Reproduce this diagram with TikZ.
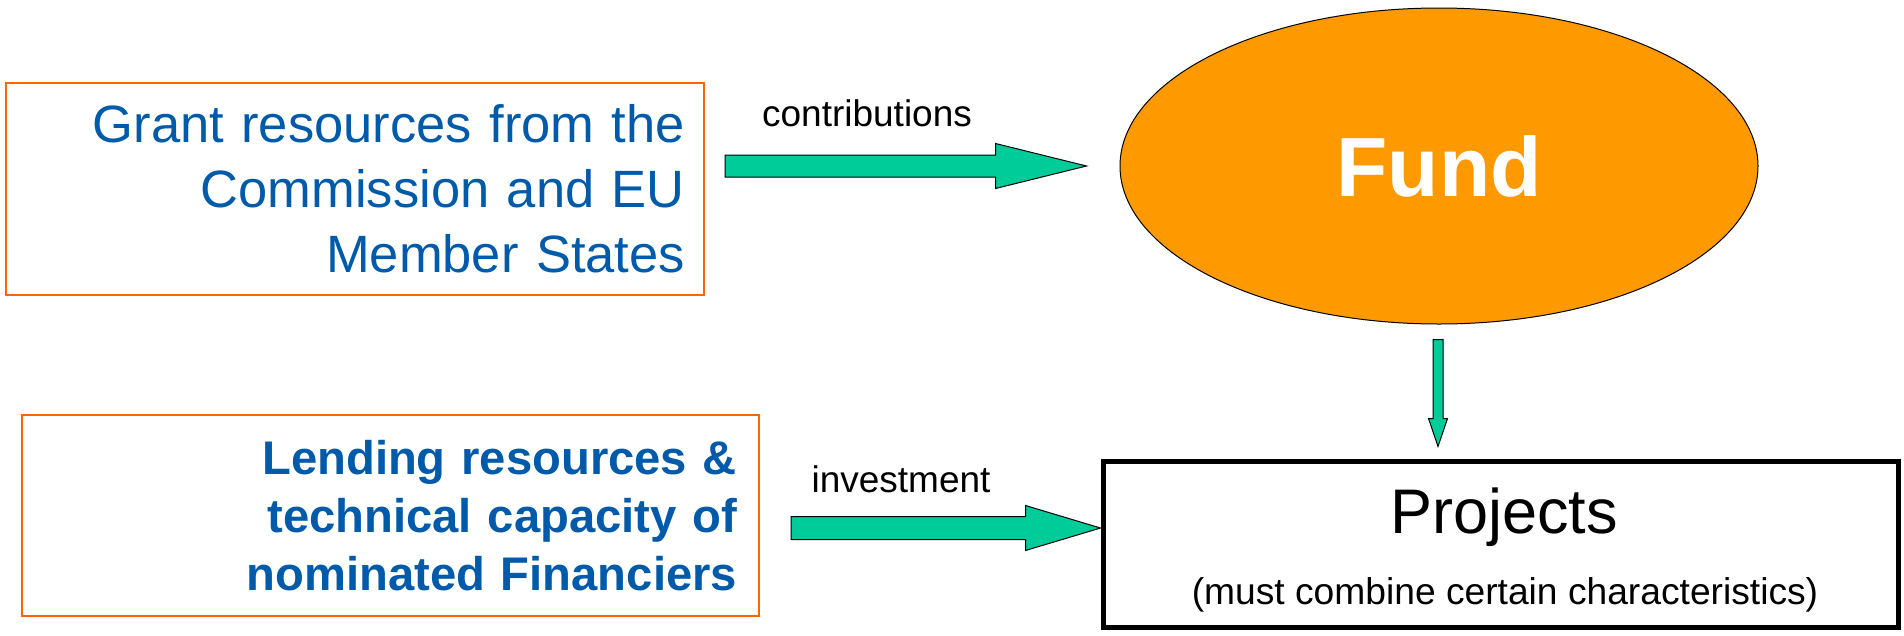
\documentclass[tikz,border=0pt]{standalone}
\usepackage{fontspec}
\setmainfont{Liberation Sans}
\usetikzlibrary{positioning, calc, shapes.geometric}

\definecolor{granttext}{RGB}{0,90,170}
\definecolor{boxorange}{RGB}{255,102,0}
\definecolor{fundorange}{RGB}{255,153,0}
\definecolor{arrowgreen}{RGB}{0,204,153}

\tikzset{
	resbox/.style={draw=boxorange, line width=1.4pt, inner sep=0pt, text=granttext, align=right},
	fatarrow/.style n args={3}{draw=black, line width=1pt, fill=arrowgreen, to path={
		($(\tikztostart)!#1!90:(\tikztotarget)$)
		-- ($($(\tikztotarget)!#3!(\tikztostart)$)!#1!90:(\tikztotarget)$)
		-- ($($(\tikztotarget)!#3!(\tikztostart)$)!#2!90:(\tikztotarget)$)
		-- (\tikztotarget)
		-- ($($(\tikztotarget)!#3!(\tikztostart)$)!#2!-90:(\tikztotarget)$)
		-- ($($(\tikztotarget)!#3!(\tikztostart)$)!#1!-90:(\tikztotarget)$)
		-- ($(\tikztostart)!#1!-90:(\tikztotarget)$) -- cycle}},
	flowlabel/.style={anchor=base, inner sep=0pt, font=\fontsize{37}{44}\selectfont},
}

\begin{document}
\begin{tikzpicture}[x=1pt,y=1pt,yscale=-1,xscale=1]
	\useasboundingbox (0,0) rectangle (1904,635);
	
	% resource boxes
	\node [resbox, minimum width=698pt, minimum height=212pt, text width=660pt, font=\fontsize{52.5}{65}\selectfont] (grant) at (355,189) {Grant resources from the\\Commission and EU\\Member States};
	\node [resbox, minimum width=737pt, minimum height=201pt, text width=693pt, font=\fontsize{47.2}{58}\selectfont\bfseries] (lending) at (390.5,515.5) {Lending resources \&\\technical capacity of\\nominated Financiers};
	
	% fund and projects
	\node [ellipse, draw=black, line width=1pt, fill=fundorange, minimum width=638pt, minimum height=316pt, inner sep=0pt, text=white, font=\fontsize{84}{96}\selectfont\bfseries] (fund) at (1439,166) {Fund};
	\node [draw=black, line width=5pt, minimum width=795pt, minimum height=166pt, inner sep=0pt] (projects) at (1500.5,544) {};
	\node [anchor=base, inner sep=0pt, font=\fontsize{63}{75}\selectfont] (projtitle) at (1504,533) {Projects};
	\node [anchor=base, inner sep=0pt, font=\fontsize{37.2}{44}\selectfont] (projnote) at (1505,604) {(must combine certain characteristics)};
	
	% arrow ends
	\coordinate (contribstart) at (725,166);
	\coordinate (contribend) at ($(fund.west)+(-33,0)$);
	\coordinate (investstart) at (791,528);
	\coordinate (fundstart) at ($(fund.south)+(-1,15)$);
	
	% arrows
	\draw [fatarrow={11pt}{22.5pt}{91pt}] (contribstart) to (contribend);
	\draw [fatarrow={11.5pt}{22.5pt}{75pt}] (investstart) to (investstart -| projects.west);
	\draw [fatarrow={5pt}{9.5pt}{28pt}] (fundstart) to ($(fundstart |- projects.north)+(0,-12)$);
	
	% arrow labels
	\node [flowlabel] (contriblabel) at (867,126) {contributions};
	\node [flowlabel] (investlabel) at (901,492) {investment};
\end{tikzpicture}
\end{document}
